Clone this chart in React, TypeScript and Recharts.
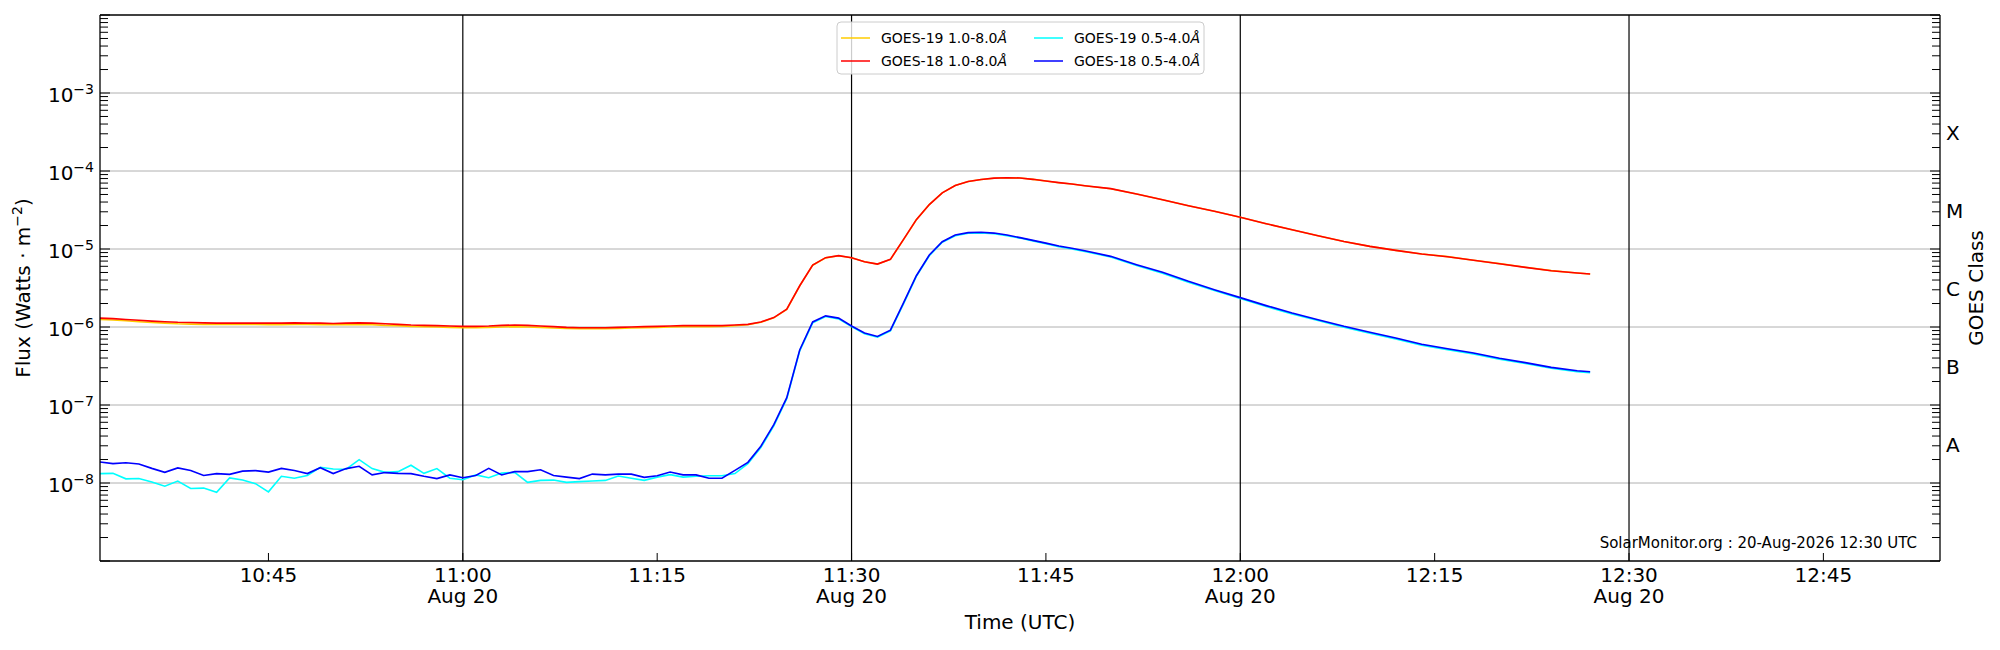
import React from 'react';
import { LineChart, Line, XAxis, YAxis, ReferenceLine } from 'recharts';

const times = [
  '10:32', '10:33', '10:34', '10:35', '10:36', '10:37', '10:38', '10:39', '10:40', '10:41',
  '10:42', '10:43', '10:44', '10:45', '10:46', '10:47', '10:48', '10:49', '10:50', '10:51',
  '10:52', '10:53', '10:54', '10:55', '10:56', '10:57', '10:58', '10:59', '11:00', '11:01',
  '11:02', '11:03', '11:04', '11:05', '11:06', '11:07', '11:08', '11:09', '11:10', '11:11',
  '11:12', '11:13', '11:14', '11:15', '11:16', '11:17', '11:18', '11:19', '11:20', '11:21',
  '11:22', '11:23', '11:24', '11:25', '11:26', '11:27', '11:28', '11:29', '11:30', '11:31',
  '11:32', '11:33', '11:34', '11:35', '11:36', '11:37', '11:38', '11:39', '11:40', '11:41',
  '11:42', '11:43', '11:44', '11:45', '11:46', '11:47', '11:48', '11:50', '11:52', '11:54',
  '11:56', '11:58', '12:00', '12:02', '12:04', '12:06', '12:08', '12:10', '12:12', '12:14',
  '12:16', '12:18', '12:20', '12:22', '12:24', '12:26', '12:27',
];

// GOES-18 1.0-8.0 A
const goes18Long = [
  1.30e-6, 1.28e-6, 1.25e-6, 1.22e-6, 1.19e-6, 1.17e-6, 1.15e-6, 1.14e-6, 1.13e-6, 1.12e-6,
  1.12e-6, 1.12e-6, 1.12e-6, 1.12e-6, 1.12e-6, 1.13e-6, 1.12e-6, 1.12e-6, 1.11e-6, 1.12e-6,
  1.13e-6, 1.12e-6, 1.10e-6, 1.08e-6, 1.06e-6, 1.05e-6, 1.04e-6, 1.03e-6, 1.02e-6, 1.02e-6,
  1.03e-6, 1.05e-6, 1.06e-6, 1.05e-6, 1.03e-6, 1.01e-6, 0.99e-6, 0.98e-6, 0.98e-6, 0.98e-6,
  0.99e-6, 1.00e-6, 1.01e-6, 1.02e-6, 1.03e-6, 1.04e-6, 1.04e-6, 1.04e-6, 1.04e-6, 1.06e-6,
  1.08e-6, 1.16e-6, 1.32e-6, 1.69e-6, 3.38e-6, 6.23e-6, 7.74e-6, 8.21e-6, 7.74e-6, 6.88e-6,
  6.41e-6, 7.37e-6, 1.32e-5, 2.38e-5, 3.71e-5, 5.25e-5, 6.52e-5, 7.33e-5, 7.78e-5, 8.10e-5,
  8.21e-5, 8.13e-5, 7.82e-5, 7.44e-5, 7.09e-5, 6.81e-5, 6.48e-5, 5.94e-5, 5.07e-5, 4.29e-5,
  3.59e-5, 3.04e-5, 2.55e-5, 2.11e-5, 1.77e-5, 1.48e-5, 1.25e-5, 1.08e-5, 9.6e-6, 8.63e-6,
  7.97e-6, 7.16e-6, 6.48e-6, 5.82e-6, 5.27e-6, 4.92e-6, 4.78e-6,
];

// GOES-19 1.0-8.0 A
const goes19Long = [
  1.25e-6, 1.23e-6, 1.20e-6, 1.17e-6, 1.14e-6, 1.12e-6, 1.10e-6, 1.09e-6, 1.08e-6, 1.08e-6,
  1.08e-6, 1.08e-6, 1.08e-6, 1.07e-6, 1.07e-6, 1.08e-6, 1.08e-6, 1.07e-6, 1.07e-6, 1.07e-6,
  1.08e-6, 1.07e-6, 1.05e-6, 1.04e-6, 1.02e-6, 1.01e-6, 1.00e-6, 0.99e-6, 0.98e-6, 0.98e-6,
  0.99e-6, 1.00e-6, 1.01e-6, 1.00e-6, 0.99e-6, 0.97e-6, 0.96e-6, 0.95e-6, 0.95e-6, 0.95e-6,
  0.96e-6, 0.97e-6, 0.98e-6, 0.99e-6, 1.00e-6, 1.01e-6, 1.01e-6, 1.01e-6, 1.02e-6, 1.04e-6,
  1.07e-6, 1.15e-6, 1.31e-6, 1.68e-6, 3.36e-6, 6.20e-6, 7.70e-6, 8.18e-6, 7.72e-6, 6.86e-6,
  6.40e-6, 7.35e-6, 1.31e-5, 2.37e-5, 3.70e-5, 5.24e-5, 6.51e-5, 7.32e-5, 7.77e-5, 8.09e-5,
  8.20e-5, 8.12e-5, 7.81e-5, 7.43e-5, 7.08e-5, 6.80e-5, 6.47e-5, 5.93e-5, 5.06e-5, 4.28e-5,
  3.58e-5, 3.04e-5, 2.55e-5, 2.11e-5, 1.77e-5, 1.48e-5, 1.25e-5, 1.08e-5, 9.6e-6, 8.64e-6,
  7.98e-6, 7.17e-6, 6.49e-6, 5.83e-6, 5.28e-6, 4.93e-6, 4.79e-6,
];

// GOES-18 0.5-4.0 A
const goes18Short = [
  1.86e-8, 1.77e-8, 1.82e-8, 1.75e-8, 1.54e-8, 1.37e-8, 1.56e-8, 1.45e-8, 1.25e-8, 1.32e-8,
  1.29e-8, 1.42e-8, 1.44e-8, 1.38e-8, 1.54e-8, 1.45e-8, 1.32e-8, 1.57e-8, 1.32e-8, 1.53e-8,
  1.64e-8, 1.27e-8, 1.36e-8, 1.33e-8, 1.32e-8, 1.22e-8, 1.14e-8, 1.27e-8, 1.17e-8, 1.25e-8,
  1.54e-8, 1.27e-8, 1.40e-8, 1.40e-8, 1.48e-8, 1.25e-8, 1.19e-8, 1.14e-8, 1.30e-8, 1.27e-8,
  1.30e-8, 1.30e-8, 1.18e-8, 1.24e-8, 1.38e-8, 1.27e-8, 1.27e-8, 1.15e-8, 1.15e-8, 1.45e-8,
  1.84e-8, 2.96e-8, 5.6e-8, 1.24e-7, 5.08e-7, 1.16e-6, 1.39e-6, 1.30e-6, 1.03e-6, 8.4e-7,
  7.55e-7, 9.1e-7, 2.02e-6, 4.54e-6, 8.37e-6, 1.24e-5, 1.51e-5, 1.62e-5, 1.64e-5, 1.60e-5,
  1.51e-5, 1.40e-5, 1.29e-5, 1.19e-5, 1.09e-5, 1.02e-5, 9.5e-6, 8.05e-6, 6.3e-6, 5.02e-6,
  3.85e-6, 3.01e-6, 2.38e-6, 1.88e-6, 1.51e-6, 1.24e-6, 1.02e-6, 8.55e-7, 7.23e-7, 6.0e-7,
  5.27e-7, 4.64e-7, 3.97e-7, 3.49e-7, 3.04e-7, 2.75e-7, 2.67e-7,
];

// GOES-19 0.5-4.0 A
const goes19Short = [
  1.32e-8, 1.33e-8, 1.13e-8, 1.14e-8, 1.03e-8, 0.91e-8, 1.06e-8, 0.85e-8, 0.86e-8, 0.76e-8,
  1.16e-8, 1.09e-8, 0.98e-8, 0.77e-8, 1.22e-8, 1.15e-8, 1.25e-8, 1.59e-8, 1.51e-8, 1.50e-8,
  1.99e-8, 1.53e-8, 1.37e-8, 1.40e-8, 1.69e-8, 1.33e-8, 1.53e-8, 1.15e-8, 1.10e-8, 1.27e-8,
  1.17e-8, 1.34e-8, 1.37e-8, 1.02e-8, 1.08e-8, 1.09e-8, 1.02e-8, 1.04e-8, 1.06e-8, 1.08e-8,
  1.23e-8, 1.15e-8, 1.08e-8, 1.19e-8, 1.28e-8, 1.19e-8, 1.22e-8, 1.24e-8, 1.24e-8, 1.32e-8,
  1.77e-8, 2.85e-8, 5.4e-8, 1.20e-7, 4.95e-7, 1.13e-6, 1.36e-6, 1.27e-6, 1.01e-6, 8.2e-7,
  7.4e-7, 8.9e-7, 1.97e-6, 4.45e-6, 8.2e-6, 1.22e-5, 1.48e-5, 1.59e-5, 1.61e-5, 1.57e-5,
  1.48e-5, 1.38e-5, 1.27e-5, 1.17e-5, 1.07e-5, 1.0e-5, 9.3e-6, 7.9e-6, 6.15e-6, 4.9e-6,
  3.76e-6, 2.94e-6, 2.32e-6, 1.83e-6, 1.47e-6, 1.21e-6, 9.9e-7, 8.3e-7, 7.0e-7, 5.85e-7,
  5.13e-7, 4.52e-7, 3.87e-7, 3.4e-7, 2.96e-7, 2.68e-7, 2.6e-7,
];

const xTicks = ['10:45', '11:00', '11:15', '11:30', '11:45', '12:00', '12:15', '12:30', '12:45'];
const dayLines = ['11:00', '11:30', '12:00', '12:30'];
const timeRange = ['10:32', '12:54'];
const decades = [-9, -8, -7, -6, -5, -4, -3];
const labelledDecades = [-8, -7, -6, -5, -4, -3];
const classLabels = ['A', 'B', 'C', 'M', 'X'];

const FONT = 'DejaVu Sans, sans-serif';
const PLOT_LEFT = 100;
const PLOT_RIGHT = 1940;
const PLOT_BOTTOM = 561;

const toMin = (s: string) => {
  const [h, m] = s.split(':').map(Number);
  return h * 60 + m;
};

const data = times.map((t, i) => ({
  t: toMin(t),
  g19l: goes19Long[i],
  g18l: goes18Long[i],
  g19s: goes19Short[i],
  g18s: goes18Short[i],
}));

const minorTicks: number[] = [];
decades.forEach((e) => {
  for (let k = 1; k <= 9; k++) minorTicks.push(k * Math.pow(10, e));
});
minorTicks.push(1e-2);

// class letters sit half way up each decade: A = 10^-7.5 ... X = 10^-3.5
const classTicks = classLabels.map((_, i) => Math.pow(10, -7.5 + i));
const rightTicks = [...minorTicks, ...classTicks];

const isDecade = (v: number) => {
  const l = Math.log10(v);
  return Math.abs(l - Math.round(l)) < 1e-6;
};

const FluxTick = (props: any) => {
  const { y, payload } = props;
  const v = payload.value;
  const major = isDecade(v);
  const e = Math.round(Math.log10(v));
  return (
    <g>
      <line x1={PLOT_LEFT} x2={PLOT_LEFT + (major ? 10 : 8)} y1={y} y2={y} stroke="#000" strokeWidth={1} />
      {major && labelledDecades.includes(e) && (
        <text x={94} y={y + 9} textAnchor="end" fontFamily={FONT} fill="#000">
          <tspan fontSize={20}>10</tspan>
          <tspan fontSize={14} dy={-8}>{'\u2212' + Math.abs(e)}</tspan>
        </text>
      )}
    </g>
  );
};

const ClassTick = (props: any) => {
  const { y, payload } = props;
  const v = payload.value;
  const ci = classTicks.indexOf(v);
  if (ci >= 0) {
    return (
      <text x={1946} y={y + 7.5} fontSize={20} fontFamily={FONT} fill="#000">
        {classLabels[ci]}
      </text>
    );
  }
  const major = isDecade(v);
  return <line x1={PLOT_RIGHT} x2={PLOT_RIGHT - (major ? 10 : 8)} y1={y} y2={y} stroke="#000" strokeWidth={1} />;
};

const TimeTick = (props: any) => {
  const { x, payload } = props;
  const m = payload.value;
  const label = `${Math.floor(m / 60)}:${String(m % 60).padStart(2, '0')}`;
  const withDate = dayLines.includes(label);
  return (
    <g>
      <line x1={x} x2={x} y1={PLOT_BOTTOM} y2={PLOT_BOTTOM - 8} stroke="#000" strokeWidth={1} />
      <text x={x} y={582} textAnchor="middle" fontSize={20} fontFamily={FONT} fill="#000">
        {label}
      </text>
      {withDate && (
        <text x={x} y={603} textAnchor="middle" fontSize={20} fontFamily={FONT} fill="#000">
          Aug 20
        </text>
      )}
    </g>
  );
};

const legendItems = [
  { name: 'GOES-19 1.0-8.0', color: '#ffcc00', col: 0, row: 0 },
  { name: 'GOES-18 1.0-8.0', color: '#ff0000', col: 0, row: 1 },
  { name: 'GOES-19 0.5-4.0', color: '#00ffff', col: 1, row: 0 },
  { name: 'GOES-18 0.5-4.0', color: '#0000ff', col: 1, row: 1 },
];

const Overlay = () => (
  <svg
    width={2000}
    height={650}
    style={{ position: 'absolute', left: 0, top: 0, pointerEvents: 'none' }}
    fontFamily={FONT}
  >
    <line x1={PLOT_LEFT} x2={PLOT_RIGHT} y1={15} y2={15} stroke="#000" strokeWidth={1.3} />
    <text transform="translate(30,288) rotate(-90)" textAnchor="middle" fontSize={20} fill="#000">
      <tspan>Flux (Watts · m</tspan>
      <tspan fontSize={14} dy={-8}>−2</tspan>
      <tspan dy={8}>)</tspan>
    </text>
    <text transform="translate(1983,288) rotate(-90)" textAnchor="middle" fontSize={20} fill="#000">
      GOES Class
    </text>
    <text x={1020} y={629} textAnchor="middle" fontSize={20} fill="#000">
      Time (UTC)
    </text>
    <text x={1917} y={548} textAnchor="end" fontSize={15} fill="#000">
      SolarMonitor.org : 20-Aug-2026 12:30 UTC
    </text>
    <rect x={837} y={22} width={367} height={52} rx={4} fill="#fff" fillOpacity={0.8} stroke="#cccccc" strokeWidth={1} />
    {legendItems.map((it) => {
      const lx = it.col === 0 ? 841 : 1034;
      const cy = it.row === 0 ? 38 : 61;
      return (
        <g key={it.name}>
          <line x1={lx} x2={lx + 29} y1={cy} y2={cy} stroke={it.color} strokeWidth={1.5} />
          <text x={lx + 40} y={cy + 5} fontSize={14} fill="#000">
            {it.name}
            <tspan fontStyle="italic">Å</tspan>
          </text>
        </g>
      );
    })}
  </svg>
);

const App = () => {
  const [x0, x1] = timeRange.map(toMin);
  return (
    <div style={{ position: 'absolute', left: 0, top: 0, width: 2000, height: 650, background: '#fff' }}>
      <LineChart width={2000} height={650} data={data} margin={{ top: 15, right: 0, bottom: 0, left: 0 }}>
        <XAxis
          dataKey="t"
          type="number"
          domain={[x0, x1]}
          allowDataOverflow
          ticks={xTicks.map(toMin)}
          interval={0}
          height={89}
          tickLine={false}
          axisLine={{ stroke: '#000', strokeWidth: 1.3 }}
          tick={<TimeTick />}
        />
        <YAxis
          yAxisId="left"
          orientation="left"
          width={100}
          type="number"
          scale="log"
          domain={[1e-9, 1e-2]}
          allowDataOverflow
          ticks={minorTicks}
          interval={0}
          tickLine={false}
          axisLine={{ stroke: '#000', strokeWidth: 1.3 }}
          tick={<FluxTick />}
        />
        <YAxis
          yAxisId="right"
          orientation="right"
          width={60}
          type="number"
          scale="log"
          domain={[1e-9, 1e-2]}
          allowDataOverflow
          ticks={rightTicks}
          interval={0}
          tickLine={false}
          axisLine={{ stroke: '#000', strokeWidth: 1.3 }}
          tick={<ClassTick />}
        />
        {labelledDecades.map((e) => (
          <ReferenceLine key={e} yAxisId="left" y={Math.pow(10, e)} stroke="#b0b0b0" strokeWidth={1} />
        ))}
        {dayLines.map((t) => (
          <ReferenceLine key={t} yAxisId="left" x={toMin(t)} stroke="#000" strokeWidth={1.2} />
        ))}
        <Line yAxisId="left" type="linear" dataKey="g19l" stroke="#ffcc00" strokeWidth={1.6} dot={false} isAnimationActive={false} />
        <Line yAxisId="left" type="linear" dataKey="g18l" stroke="#ff0000" strokeWidth={1.6} dot={false} isAnimationActive={false} />
        <Line yAxisId="left" type="linear" dataKey="g19s" stroke="#00ffff" strokeWidth={1.6} dot={false} isAnimationActive={false} />
        <Line yAxisId="left" type="linear" dataKey="g18s" stroke="#0000ff" strokeWidth={1.6} dot={false} isAnimationActive={false} />
      </LineChart>
      <Overlay />
    </div>
  );
};

export default App;
